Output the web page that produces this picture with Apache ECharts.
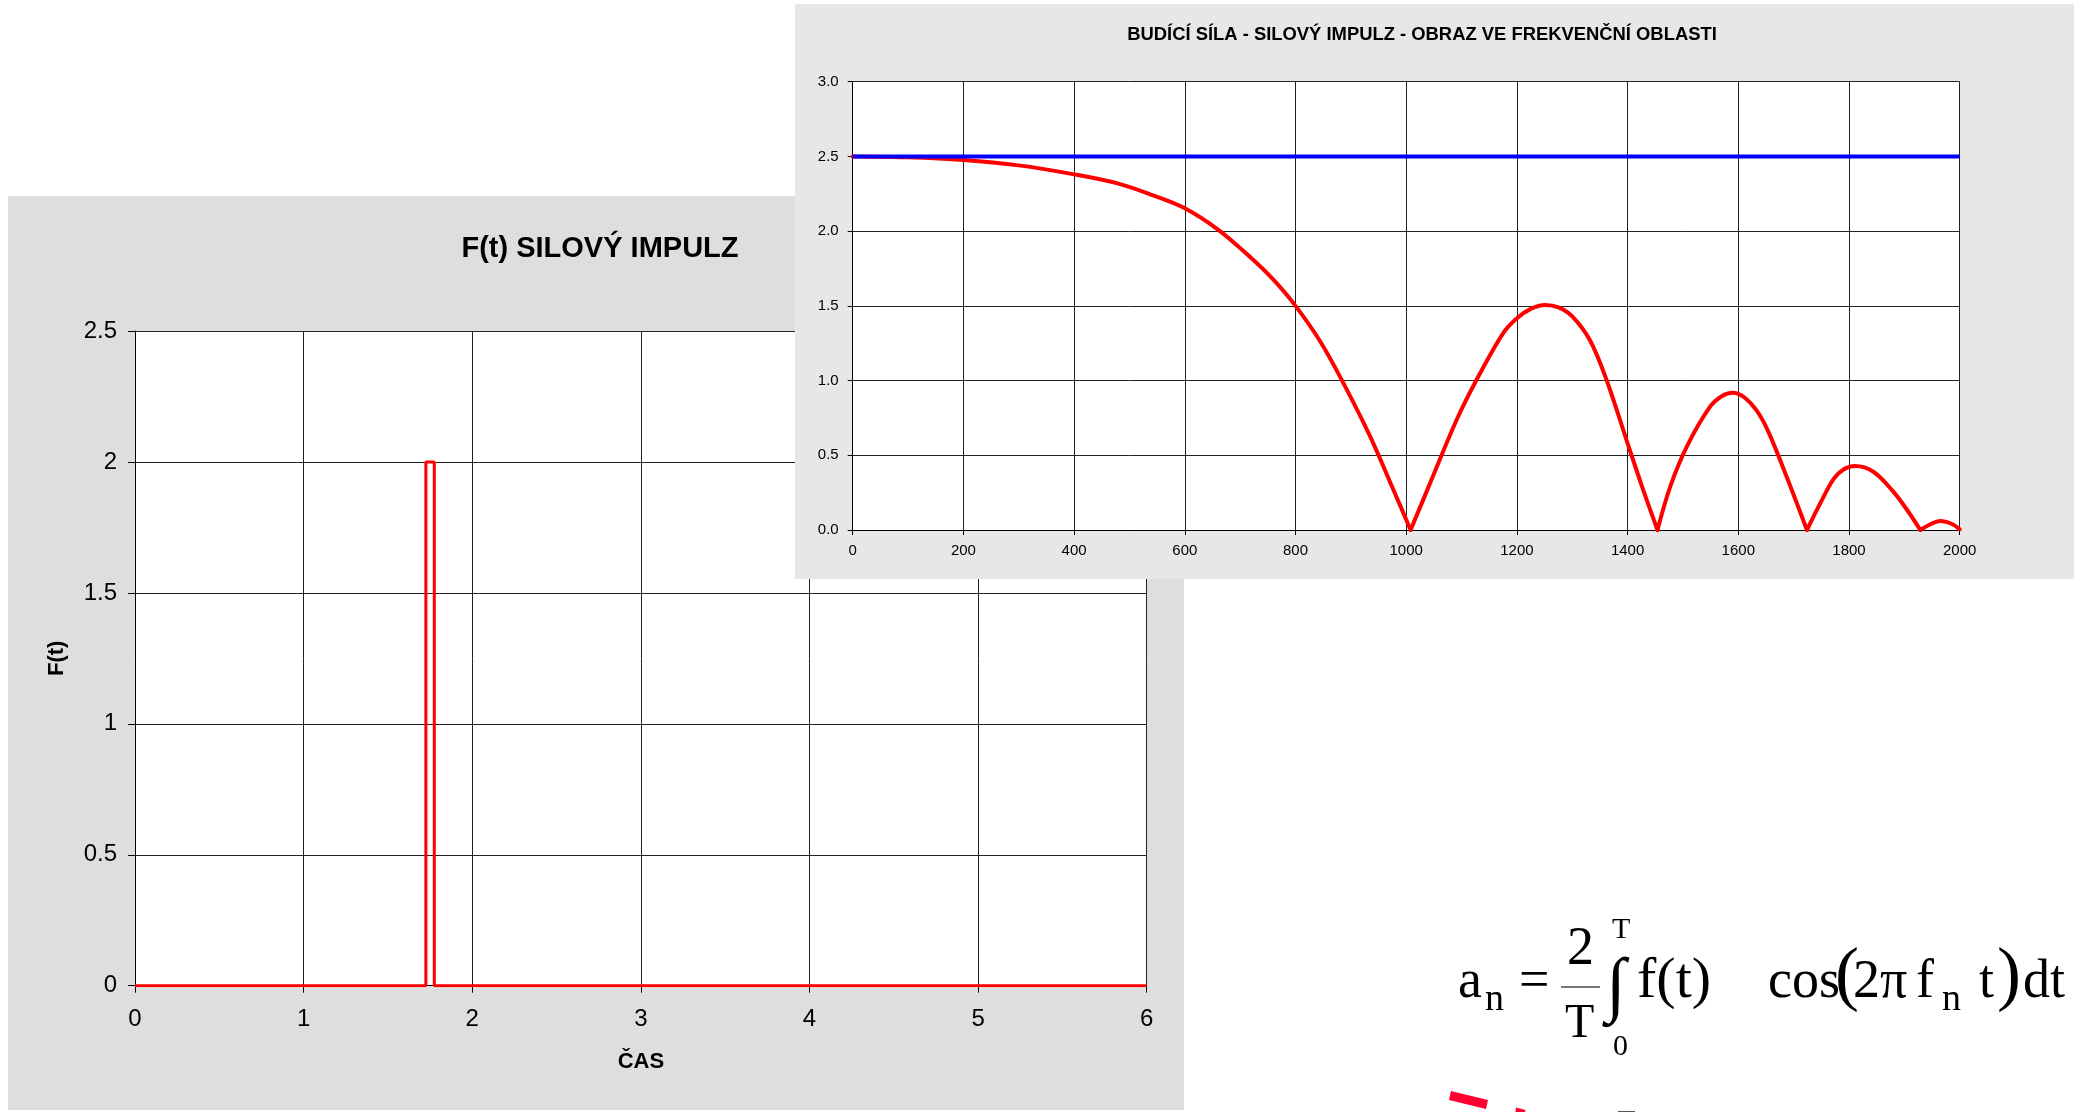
<!DOCTYPE html>
<html>
<head>
<meta charset="utf-8">
<title>F(t) SILOVÝ IMPULZ</title>
<script src="https://cdn.jsdelivr.net/npm/echarts@6/dist/echarts.min.js"></script>
<style>
  html, body { margin: 0; padding: 0; background: #fff; }
  #page { position: absolute; left: 0; top: 0; width: 2083px; height: 1112px; }
  #spectrum { position: absolute; left: 795px; top: 4px; width: 1279px; height: 575px; }
</style>
</head>
<body>
<div id="page"></div>
<div id="spectrum"></div>
<script>
// time domain - force pulse
const pulseTime = [0, 1.725, 1.725, 1.775, 1.775, 6];
const pulseForce = [0, 0, 2, 2, 0, 0];
const timeTicks = [0, 1, 2, 3, 4, 5, 6];
const forceTicks = [0, 0.5, 1, 1.5, 2, 2.5];

// frequency domain
const freqHz = [0, 100, 200, 300, 400, 480, 540, 600, 660, 720, 760, 800, 845, 887, 935,
  977, 1008, 1043, 1091, 1127, 1175, 1200, 1225, 1251, 1275, 1300, 1332, 1362, 1400, 1428,
  1454, 1477, 1507, 1548, 1570, 1590, 1610, 1633, 1654, 1687, 1724, 1748, 1772, 1790, 1811,
  1844, 1880, 1905, 1929, 1941, 1965, 1986, 2000];
const spectrumAmp = [2.5, 2.494, 2.476, 2.44, 2.38, 2.318, 2.243, 2.153, 2.01, 1.82, 1.675, 1.5, 1.26, 0.98, 0.625,
  0.268, 0, 0.312, 0.736, 1.004, 1.316, 1.417, 1.48, 1.506, 1.49, 1.43, 1.27, 1.004, 0.58, 0.27,
  0, 0.29, 0.558, 0.82, 0.895, 0.918, 0.89, 0.8, 0.66, 0.36, 0, 0.178, 0.34, 0.405, 0.428,
  0.39, 0.257, 0.134, 0, 0.027, 0.06, 0.04, 0.005];
const levelFreq = [0, 2000];
const levelAmp = [2.5, 2.5];
const freqTicks = [0, 200, 400, 600, 800, 1000, 1200, 1400, 1600, 1800, 2000];
const ampTicks = [0, 0.5, 1, 1.5, 2, 2.5, 3];

const SANS = '"Liberation Sans", Arial, sans-serif';
const SERIF = '"Liberation Serif", "Times New Roman", serif';

function pairs(xs, ys) {
  return xs.map((x, i) => [x, ys[i]]);
}

function txt(text, x, y, font, align) {
  return {
    type: 'text', x: x, y: y, silent: true,
    style: {
      text: text, font: font, fill: '#000',
      align: align || 'left', verticalAlign: 'middle',
      textAlign: align || 'left', textVerticalAlign: 'middle'
    }
  };
}

// formula pieces: [text, left x, baseline y, font size]
const formula = [
  ['a', 1458, 1001, 54], ['n', 1485, 1013, 38], ['=', 1519, 1001, 54],
  ['2', 1567, 968, 54], ['T', 1565, 1041, 48],
  ['\u222B', 1606, 1013, 72], ['T', 1612, 940, 30], ['0', 1613, 1057, 30],
  ['f(t)', 1637, 1001, 58], ['cos', 1768, 1001, 54], ['(', 1835, 1002, 72],
  ['2\u03C0', 1853, 1001, 54], ['f', 1916, 1001, 54], ['n', 1942, 1013, 38],
  ['t', 1979, 1001, 54], [')', 1997, 1002, 72], ['dt', 2023, 1001, 54]
];
const formulaGraphics = formula.map(p =>
  txt(p[0], p[1], p[2] - 0.3375 * p[3], p[3] + 'px ' + SERIF, 'left'));

// split the |spectrum| at its zeros so each lobe is smooth but the notches stay sharp
const lobes = [];
let start = 0;
for (let i = 1; i < freqHz.length; i++) {
  if (spectrumAmp[i] === 0 || i === freqHz.length - 1) {
    lobes.push(pairs(freqHz.slice(start, i + 1), spectrumAmp.slice(start, i + 1)));
    start = i;
  }
}

const page = echarts.init(document.getElementById('page'));
page.setOption({
  backgroundColor: '#ffffff',
  animation: false,
  graphic: [
    { type: 'rect', silent: true, z: -10, shape: { x: 8, y: 196, width: 1176, height: 914 }, style: { fill: '#dedede' } },
    txt('F(t) SILOVÝ IMPULZ', 600, 249, 'bold 29px ' + SANS, 'center'),
    { type: 'line', silent: true, shape: { x1: 1561, y1: 987, x2: 1600, y2: 987 }, style: { stroke: '#777', lineWidth: 2 } },
    { type: 'polygon', silent: true, shape: { points: [[1451, 1091], [1488, 1100], [1486, 1109], [1449, 1100]] }, style: { fill: '#ff0033' } },
    { type: 'polygon', silent: true, shape: { points: [[1516, 1107.5], [1525.5, 1110], [1525, 1112], [1515.5, 1112]] }, style: { fill: '#ff0033' } },
    { type: 'rect', silent: true, shape: { x: 1618, y: 1111, width: 17, height: 1 }, style: { fill: '#555' } }
  ].concat(formulaGraphics),
  grid: { left: 135, top: 331, width: 1011.7, height: 654.7, show: true, backgroundColor: '#fff', borderWidth: 0 },
  xAxis: {
    type: 'value',
    min: timeTicks[0], max: timeTicks[timeTicks.length - 1], interval: timeTicks[1] - timeTicks[0],
    name: 'ČAS', nameLocation: 'middle', nameGap: 65,
    nameTextStyle: { fontFamily: SANS, fontWeight: 'bold', fontSize: 22, color: '#000' },
    axisLine: { show: true, lineStyle: { color: '#000', width: 1 } },
    axisTick: { show: true, length: 7, lineStyle: { color: '#000' } },
    axisLabel: { fontFamily: SANS, fontSize: 24, color: '#000', margin: 22 },
    splitLine: { show: true, lineStyle: { color: '#222', width: 1 } }
  },
  yAxis: {
    type: 'value',
    min: forceTicks[0], max: forceTicks[forceTicks.length - 1], interval: forceTicks[1] - forceTicks[0],
    name: 'F(t)', nameLocation: 'middle', nameGap: 67, nameRotate: 90,
    nameTextStyle: { fontFamily: SANS, fontWeight: 'bold', fontSize: 22, color: '#000' },
    axisLine: { show: true, lineStyle: { color: '#000', width: 1 } },
    axisTick: { show: true, length: 7, lineStyle: { color: '#000' } },
    axisLabel: { fontFamily: SANS, fontSize: 24, color: '#000', margin: 18 },
    splitLine: { show: true, lineStyle: { color: '#222', width: 1 } }
  },
  series: [{
    type: 'line',
    data: pairs(pulseTime, pulseForce),
    showSymbol: false,
    lineStyle: { color: '#ff0000', width: 3 },
    itemStyle: { color: '#ff0000' }
  }]
});

const lobeSeries = lobes.map(d => ({
  type: 'line',
  data: d,
  showSymbol: false,
  smooth: 0.35,
  lineStyle: { color: '#ff0000', width: 4, cap: 'round', join: 'round' },
  itemStyle: { color: '#ff0000' }
}));

const spectrum = echarts.init(document.getElementById('spectrum'));
spectrum.setOption({
  backgroundColor: '#e7e7e7',
  animation: false,
  graphic: [
    txt('BUDÍCÍ SÍLA - SILOVÝ IMPULZ - OBRAZ VE FREKVENČNÍ OBLASTI', 627, 31, 'bold 18.4px ' + SANS, 'center')
  ],
  grid: { left: 57.7, top: 77.7, width: 1107, height: 448.3, show: true, backgroundColor: '#fff', borderWidth: 0 },
  xAxis: {
    type: 'value',
    min: freqTicks[0], max: freqTicks[freqTicks.length - 1], interval: freqTicks[1] - freqTicks[0],
    axisLine: { show: true, lineStyle: { color: '#000', width: 1 } },
    axisTick: { show: true, length: 5, lineStyle: { color: '#000' } },
    axisLabel: { fontFamily: SANS, fontSize: 15, color: '#000', margin: 13, formatter: v => String(v) },
    splitLine: { show: true, lineStyle: { color: '#222', width: 1 } }
  },
  yAxis: {
    type: 'value',
    min: ampTicks[0], max: ampTicks[ampTicks.length - 1], interval: ampTicks[1] - ampTicks[0],
    axisLine: { show: true, lineStyle: { color: '#000', width: 1 } },
    axisTick: { show: true, length: 5, lineStyle: { color: '#000' } },
    axisLabel: { fontFamily: SANS, fontSize: 15, color: '#000', margin: 14, formatter: v => v.toFixed(1) },
    splitLine: { show: true, lineStyle: { color: '#222', width: 1 } }
  },
  series: lobeSeries.concat([{
    type: 'line',
    data: pairs(levelFreq, levelAmp),
    showSymbol: false,
    lineStyle: { color: '#0000ff', width: 4 },
    itemStyle: { color: '#0000ff' }
  }])
});
</script>
</body>
</html>
